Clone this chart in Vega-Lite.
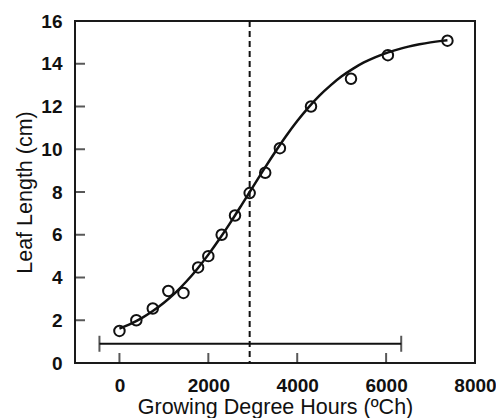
{
  "$schema": "https://vega.github.io/schema/vega-lite/v6.json",
  "width": 400,
  "height": 342,
  "autosize": {"type": "none"},
  "padding": {"left": 75, "top": 21, "right": 21, "bottom": 55},
  "background": "white",
  "config": {
    "view": {"stroke": "#1a1a1a", "strokeWidth": 2},
    "font": "Liberation Sans",
    "axis": {
      "domain": false,
      "grid": false,
      "ticks": false,
      "labelFont": "Liberation Sans",
      "labelFontWeight": "bold",
      "labelFontSize": 19,
      "labelColor": "#111",
      "titleFont": "Liberation Sans",
      "titleFontWeight": "normal",
      "titleFontSize": 21.5,
      "titleColor": "#111"
    }
  },
  "datasets": {
    "points": [
      {"gdh": 0, "len": 1.5},
      {"gdh": 380, "len": 2.0},
      {"gdh": 750, "len": 2.55},
      {"gdh": 1100, "len": 3.37},
      {"gdh": 1440, "len": 3.28},
      {"gdh": 1770, "len": 4.47},
      {"gdh": 2000, "len": 5.0},
      {"gdh": 2300, "len": 6.0},
      {"gdh": 2600, "len": 6.9},
      {"gdh": 2930, "len": 7.95},
      {"gdh": 3280, "len": 8.9},
      {"gdh": 3610, "len": 10.05},
      {"gdh": 4310, "len": 12.0},
      {"gdh": 5210, "len": 13.3},
      {"gdh": 6040, "len": 14.4},
      {"gdh": 7380, "len": 15.08}
    ],
    "curve": [
      {"gdh": 0, "len": 1.61},
      {"gdh": 250, "len": 1.83},
      {"gdh": 500, "len": 2.1},
      {"gdh": 750, "len": 2.43},
      {"gdh": 1000, "len": 2.82},
      {"gdh": 1250, "len": 3.27},
      {"gdh": 1500, "len": 3.8},
      {"gdh": 1750, "len": 4.4},
      {"gdh": 2000, "len": 5.07},
      {"gdh": 2250, "len": 5.8},
      {"gdh": 2500, "len": 6.58},
      {"gdh": 2750, "len": 7.4},
      {"gdh": 2930, "len": 8.0},
      {"gdh": 3000, "len": 8.23},
      {"gdh": 3250, "len": 9.06},
      {"gdh": 3500, "len": 9.86},
      {"gdh": 3750, "len": 10.62},
      {"gdh": 4000, "len": 11.32},
      {"gdh": 4250, "len": 11.95},
      {"gdh": 4500, "len": 12.51},
      {"gdh": 4750, "len": 12.99},
      {"gdh": 5000, "len": 13.41},
      {"gdh": 5250, "len": 13.76},
      {"gdh": 5500, "len": 14.06},
      {"gdh": 5750, "len": 14.3},
      {"gdh": 6000, "len": 14.5},
      {"gdh": 6250, "len": 14.66},
      {"gdh": 6500, "len": 14.8},
      {"gdh": 6750, "len": 14.91},
      {"gdh": 7000, "len": 15.0},
      {"gdh": 7250, "len": 15.07},
      {"gdh": 7380, "len": 15.1}
    ],
    "vline": [{"gdh": 2930}],
    "errbar": [{"lo": -450, "hi": 6340, "len": 0.9}],
    "caps": [{"gdh": -450, "len": 0.9}, {"gdh": 6340, "len": 0.9}],
    "xticks": [{"gdh": 0, "len": 0}, {"gdh": 2000, "len": 0}, {"gdh": 4000, "len": 0}, {"gdh": 6000, "len": 0}],
    "yticks": [{"gdh": -1000, "len": 2}, {"gdh": -1000, "len": 4}, {"gdh": -1000, "len": 6}, {"gdh": -1000, "len": 8}, {"gdh": -1000, "len": 10}, {"gdh": -1000, "len": 12}, {"gdh": -1000, "len": 14}]
  },
  "encoding": {
    "x": {
      "field": "gdh",
      "type": "quantitative",
      "scale": {"domain": [-1000, 8000], "nice": false, "zero": false},
      "axis": {"values": [0, 2000, 4000, 6000, 8000], "format": "d", "labelFlush": false, "labelPadding": 13, "title": "Growing Degree Hours (ºCh)", "titlePadding": 1}
    },
    "y": {
      "field": "len",
      "type": "quantitative",
      "scale": {"domain": [0, 16], "nice": false},
      "axis": {"values": [0, 2, 4, 6, 8, 10, 12, 14, 16], "format": "d", "labelPadding": 13, "title": "Leaf Length (cm)", "titlePadding": 4}
    }
  },
  "layer": [
    {
      "data": {"name": "xticks"},
      "mark": {"type": "tick", "orient": "vertical", "color": "#111", "thickness": 2, "size": 20, "clip": true}
    },
    {
      "data": {"name": "yticks"},
      "mark": {"type": "tick", "orient": "horizontal", "color": "#111", "thickness": 2, "size": 20, "clip": true}
    },
    {
      "data": {"name": "vline"},
      "mark": {"type": "rule", "color": "#111", "strokeWidth": 2, "strokeDash": [6, 4]},
      "encoding": {"y": null}
    },
    {
      "data": {"name": "errbar"},
      "mark": {"type": "rule", "color": "#111", "strokeWidth": 2},
      "encoding": {"x": {"field": "lo", "type": "quantitative"}, "x2": {"field": "hi"}}
    },
    {
      "data": {"name": "caps"},
      "mark": {"type": "tick", "orient": "vertical", "color": "#111", "thickness": 2, "size": 16}
    },
    {
      "data": {"name": "curve"},
      "mark": {"type": "line", "color": "#111", "strokeWidth": 2.5, "interpolate": "monotone"}
    },
    {
      "data": {"name": "points"},
      "mark": {"type": "point", "shape": "circle", "filled": false, "stroke": "#111", "strokeWidth": 2, "size": 110, "opacity": 1}
    }
  ]
}
